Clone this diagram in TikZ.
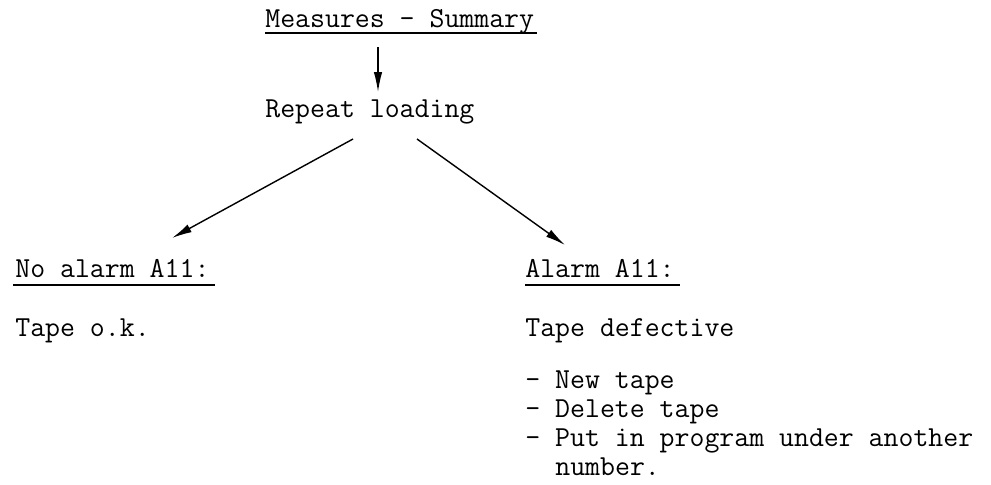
\documentclass[tikz,border=0pt]{standalone}
\usetikzlibrary{arrows.meta, calc}

\begin{document}
\begin{tikzpicture}[x=0.02cm, y=-0.02cm,
                    txt/.style={inner sep=0pt, anchor=base west, font=\ttfamily\fontsize{16.5}{18}\selectfont},
                    arr/.style={-{Latex[length=4mm, width=1.7mm]}, line width=0.8pt},
                    uline/.style={line width=0.7pt}]
        \useasboundingbox (0,0) rectangle (991,484);
        \node[txt] (meas)  at (265,27)  {Measures - Summary};
        \node[txt] (rep)   at (265,117) {Repeat loading};
        \node[txt] (noal)  at (15,277)  {No alarm A11:};
        \node[txt] (tok)   at (15,336)  {Tape o.k.};
        \node[txt] (alarm) at (525,277) {Alarm A11:};
        \node[txt] (tdef)  at (525,336) {Tape defective};
        \node[txt] (new)   at (525,388) {- New tape};
        \node[txt] (del)   at (525,417) {- Delete tape};
        \node[txt] (put)   at (525,446) {- Put in program under another};
        \node[txt] (num)   at (555,475) {number.};
        % underlined headings
        \draw[uline] ($(meas.base west)+(0,6)$) -- ($(meas.base east)+(3,6)$);
        \draw[uline] ($(noal.base west)+(-2,8)$) -- ($(noal.base east)+(5,8)$);
        \draw[uline] ($(alarm.base west)+(0,8)$) -- ($(alarm.base east)+(5,8)$);
        \draw[arr] ($(meas.base west)+(113,20)$) -- ($(rep.base west)+(113,-25)$);
        \draw[arr] ($(rep.base west)+(88,22)$) -- ($(noal.base west)+(157,-39)$);
        \draw[arr] ($(rep.base west)+(152,22)$) -- ($(alarm.base west)+(40,-32)$);
    \end{tikzpicture}
\end{document}
